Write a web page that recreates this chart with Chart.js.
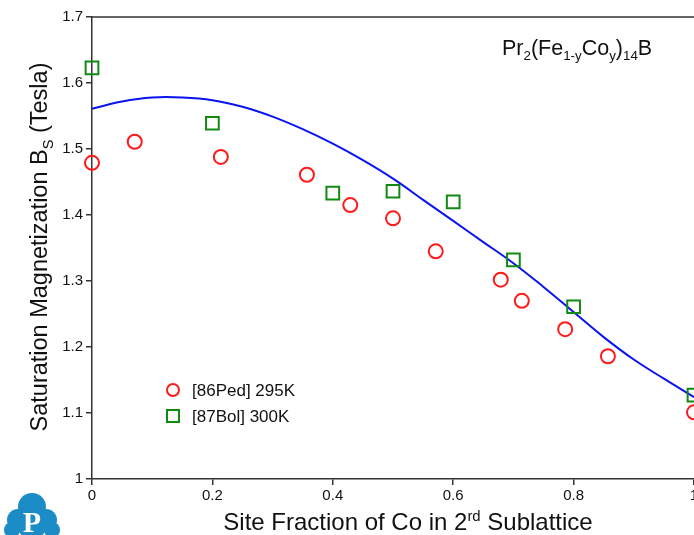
<!DOCTYPE html>
<html lang="en">

<head>
    <meta charset="UTF-8">
    <title>Pr2(Fe1-yCoy)14B saturation magnetization</title>
    <script src="https://cdn.jsdelivr.net/npm/chart.js"></script>
    <style>
        html, body { margin: 0; padding: 0; overflow: hidden; background: #fff; }
        #wrap { position: absolute; left: 0; top: 0; width: 720px; height: 535px; }
    </style>
</head>

<body>
    <div id="wrap"><canvas id="bsChart"></canvas></div>

    <script>
        // experimental points, [86Ped] 295K
        const pedX = [0, 0.071, 0.214, 0.357, 0.429, 0.5, 0.571, 0.679, 0.714, 0.786, 0.857, 1.0];
        const pedY = [1.479, 1.511, 1.488, 1.461, 1.415, 1.395, 1.345, 1.302, 1.270, 1.227, 1.186, 1.101];

        // experimental points, [87Bol] 300K
        const bolX = [0, 0.2, 0.4, 0.5, 0.6, 0.7, 0.8, 1.0];
        const bolY = [1.623, 1.539, 1.433, 1.436, 1.420, 1.332, 1.261, 1.127];

        // calculated curve
        const calcX = [0, 0.05, 0.1, 0.15, 0.2, 0.25, 0.3, 0.35, 0.4, 0.45, 0.5, 0.55, 0.6, 0.65, 0.7, 0.75, 0.8, 0.85, 0.9, 0.95, 1.0];
        const calcY = [1.561, 1.572, 1.578, 1.578, 1.574, 1.564, 1.549, 1.530, 1.508, 1.483, 1.455, 1.423, 1.391, 1.359, 1.327, 1.291, 1.253, 1.215, 1.181, 1.152, 1.124];

        // axis ticks
        const xTicks = [0, 0.2, 0.4, 0.6, 0.8, 1];
        const yTicks = [1, 1.1, 1.2, 1.3, 1.4, 1.5, 1.6, 1.7];

        const pts = (xs, ys) => xs.map((x, i) => ({ x: x, y: ys[i] }));
        const FONT = '"Liberation Sans", Arial, sans-serif';

        // draw text pieces with sub/superscripts
        function richText(ctx, parts, x, y, size, align) {
            let total = 0;
            parts.forEach(p => {
                const s = p.mode ? size * 0.62 : size;
                ctx.font = s + 'px ' + FONT;
                total += ctx.measureText(p.t).width;
            });
            let cx = align === 'center' ? x - total / 2 : (align === 'right' ? x - total : x);
            ctx.textAlign = 'left';
            ctx.textBaseline = 'alphabetic';
            parts.forEach(p => {
                const s = p.mode ? size * 0.62 : size;
                ctx.font = s + 'px ' + FONT;
                let dy = 0;
                if (p.mode === 'sub') dy = size * 0.25;
                if (p.mode === 'sup') dy = -size * 0.38;
                ctx.fillText(p.t, cx, y + dy);
                cx += ctx.measureText(p.t).width;
            });
        }

        const decorations = {
            id: 'decorations',
            afterDraw(chart) {
                const ctx = chart.ctx;
                const a = chart.chartArea;
                ctx.save();

                // top frame line
                ctx.strokeStyle = '#333';
                ctx.lineWidth = 1.5;
                ctx.beginPath();
                ctx.moveTo(a.left, a.top);
                ctx.lineTo(a.right, a.top);
                ctx.stroke();

                ctx.fillStyle = '#111';
                // formula
                richText(ctx, [
                    { t: 'Pr' }, { t: '2', mode: 'sub' }, { t: '(Fe' }, { t: '1-y', mode: 'sub' },
                    { t: 'Co' }, { t: 'y', mode: 'sub' }, { t: ')' }, { t: '14', mode: 'sub' }, { t: 'B' }
                ], 502, 55, 21.5, 'left');

                // x title
                richText(ctx, [
                    { t: 'Site Fraction of Co in 2' }, { t: 'rd', mode: 'sup' }, { t: ' Sublattice' }
                ], 408, 530, 24, 'center');

                // y title
                ctx.save();
                ctx.translate(47, 247);
                ctx.rotate(-Math.PI / 2);
                richText(ctx, [
                    { t: 'Saturation Magnetization B' }, { t: 'S', mode: 'sub' }, { t: ' (Tesla)' }
                ], 0, 0, 23.5, 'center');
                ctx.restore();

                // legend
                const items = [
                    { ds: chart.data.datasets[0], y: 390 },
                    { ds: chart.data.datasets[1], y: 416 }
                ];
                items.forEach(it => {
                    ctx.strokeStyle = it.ds.borderColor;
                    ctx.lineWidth = 2;
                    ctx.beginPath();
                    if (it.ds.pointStyle === 'circle') {
                        ctx.arc(173, it.y, 6, 0, Math.PI * 2);
                    } else {
                        ctx.rect(167, it.y - 6, 12, 12);
                    }
                    ctx.stroke();
                    ctx.fillStyle = '#111';
                    ctx.font = '17px ' + FONT;
                    ctx.textAlign = 'left';
                    ctx.textBaseline = 'middle';
                    ctx.fillText(it.ds.label, 192, it.y + 1);
                });

                // logo
                ctx.fillStyle = '#1b8cc6';
                [[32, 507, 14], [18, 520, 11], [46, 520, 11], [32, 526, 14], [12, 530, 8], [52, 530, 8]].forEach(c => {
                    ctx.beginPath();
                    ctx.arc(c[0], c[1], c[2], 0, Math.PI * 2);
                    ctx.fill();
                });
                ctx.fillStyle = '#fff';
                ctx.font = 'bold 30px "Liberation Serif", serif';
                ctx.textAlign = 'center';
                ctx.textBaseline = 'alphabetic';
                ctx.fillText('P', 32, 532);

                ctx.restore();
            }
        };

        const axisStyle = {
            grid: { display: true, drawOnChartArea: false, drawTicks: true, tickLength: 6, color: '#333', lineWidth: 1.5 },
            border: { color: '#333', width: 1.5 },
            ticks: { color: '#111', font: { family: FONT, size: 15 } }
        };

        new Chart(document.getElementById('bsChart'), {
            type: 'scatter',
            data: {
                datasets: [
                    {
                        label: '[86Ped] 295K',
                        data: pts(pedX, pedY),
                        pointStyle: 'circle',
                        pointRadius: 7,
                        borderColor: '#ff1a1a',
                        backgroundColor: 'rgba(0,0,0,0)',
                        borderWidth: 2
                    },
                    {
                        label: '[87Bol] 300K',
                        data: pts(bolX, bolY),
                        pointStyle: 'rect',
                        pointRadius: 9,
                        borderColor: '#118a11',
                        backgroundColor: 'rgba(0,0,0,0)',
                        borderWidth: 2
                    },
                    {
                        label: 'Calculated',
                        type: 'line',
                        data: pts(calcX, calcY),
                        borderColor: '#0a14f0',
                        borderWidth: 2,
                        pointRadius: 0,
                        tension: 0.4,
                        fill: false
                    }
                ]
            },
            options: {
                responsive: true,
                maintainAspectRatio: false,
                animation: false,
                clip: false,
                layout: { padding: { top: 17, right: 26, left: 0, bottom: 0 } },
                plugins: { legend: { display: false }, tooltip: { enabled: false } },
                scales: {
                    x: Object.assign({}, axisStyle, {
                        type: 'linear', min: 0, max: 1,
                        afterBuildTicks: s => { s.ticks = xTicks.map(v => ({ value: v })); },
                        afterFit: s => { s.height = 56; },
                        ticks: Object.assign({}, axisStyle.ticks, { padding: 2, callback: v => String(v) })
                    }),
                    y: Object.assign({}, axisStyle, {
                        type: 'linear', min: 1, max: 1.7,
                        afterBuildTicks: s => { s.ticks = yTicks.map(v => ({ value: v })); },
                        afterFit: s => { s.width = 92; },
                        ticks: Object.assign({}, axisStyle.ticks, { padding: 3, callback: v => String(v) })
                    })
                }
            },
            plugins: [decorations]
        });
    </script>
</body>

</html>
